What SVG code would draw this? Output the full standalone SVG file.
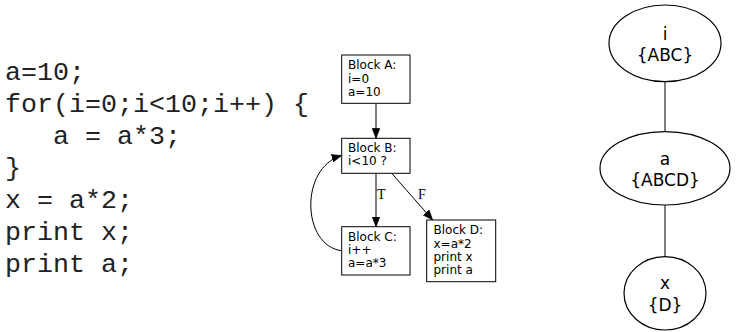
<svg xmlns="http://www.w3.org/2000/svg" width="738" height="332" viewBox="0 0 738 332">
<style>
.code{font-family:"Liberation Mono","Courier New",monospace;font-size:26.67px;fill:#222;white-space:pre}
.box{fill:#fff;stroke:#000;stroke-width:1}
.bt{font-family:"DejaVu Sans",sans-serif;font-size:12px;fill:#000}
.el{fill:#fff;stroke:#000;stroke-width:1.2}
.et{font-family:"DejaVu Sans",sans-serif;font-size:17px;fill:#000;text-anchor:middle}
.edge{fill:none;stroke:#000;stroke-width:1}
.lbl{font-family:"Liberation Serif","Times New Roman",serif;font-size:14px;fill:#000}
</style>
<defs>
<marker id="ah" viewBox="0 0 10 8" refX="10" refY="4" markerWidth="10" markerHeight="8" markerUnits="userSpaceOnUse" orient="auto">
<path d="M0,0 L10,4 L0,8 Z" fill="#000" stroke="#000" stroke-width="0.5"/>
</marker>
</defs>
<g id="code">
<text class="code" x="5" y="80" xml:space="preserve">a=10;</text>
<text class="code" x="5" y="112" xml:space="preserve">for(i=0;i&lt;10;i++) {</text>
<text class="code" x="5" y="144" xml:space="preserve">   a = a*3;</text>
<text class="code" x="5" y="176" xml:space="preserve">}</text>
<text class="code" x="5" y="208" xml:space="preserve">x = a*2;</text>
<text class="code" x="5" y="240" xml:space="preserve">print x;</text>
<text class="code" x="5" y="272" xml:space="preserve">print a;</text>
</g>
<g id="connectors">
<line class="edge" x1="376" y1="103.3" x2="376" y2="138.3" marker-end="url(#ah)"/>
<line class="edge" x1="376" y1="173.3" x2="376" y2="226.7" marker-end="url(#ah)"/>
<line class="edge" x1="391.7" y1="173.3" x2="432.7" y2="220" marker-end="url(#ah)"/>
<path class="edge" d="M341.7,250.7 C302,246 299,168 341.7,155.5" marker-end="url(#ah)"/>
<text class="lbl" x="377" y="199.3">T</text>
<text class="lbl" x="418" y="199.3">F</text>
<line class="edge" x1="665" y1="81.7" x2="665" y2="131.7"/>
<line class="edge" x1="665" y1="205" x2="665" y2="256.7"/>
</g>
<g id="blockA">
<rect class="box" x="341.7" y="55" width="68.3" height="48.3"/>
<text class="bt" x="348" y="69.3">Block A:</text>
<text class="bt" x="348" y="82.7">i=0</text>
<text class="bt" x="348" y="96">a=10</text>
</g>
<g id="blockB">
<rect class="box" x="341.7" y="138.3" width="68.3" height="35"/>
<text class="bt" x="348" y="151.7">Block B:</text>
<text class="bt" x="348" y="165">i&lt;10 ?</text>
</g>
<g id="blockC">
<rect class="box" x="341.7" y="226.7" width="68.3" height="48.3"/>
<text class="bt" x="348" y="240.7">Block C:</text>
<text class="bt" x="348" y="254">i++</text>
<text class="bt" x="348" y="267.3">a=a*3</text>
</g>
<g id="blockD">
<rect class="box" x="426.7" y="220" width="69" height="61.7"/>
<text class="bt" x="433.5" y="234.3">Block D:</text>
<text class="bt" x="433.5" y="247.7">x=a*2</text>
<text class="bt" x="433.5" y="261">print x</text>
<text class="bt" x="433.5" y="274.3">print a</text>
</g>
<g id="var_i">
<ellipse class="el" cx="665" cy="43.3" rx="56" ry="38.3"/>
<text class="et" x="665" y="40">i</text>
<text class="et" x="665" y="60.5">{ABC}</text>
</g>
<g id="var_a">
<ellipse class="el" cx="665" cy="168.3" rx="65" ry="36.7"/>
<text class="et" x="665" y="164.5">a</text>
<text class="et" x="665" y="185.5">{ABCD}</text>
</g>
<g id="var_x">
<ellipse class="el" cx="665" cy="293.3" rx="41" ry="36.7"/>
<text class="et" x="665" y="289">x</text>
<text class="et" x="665" y="310.5">{D}</text>
</g>
</svg>
